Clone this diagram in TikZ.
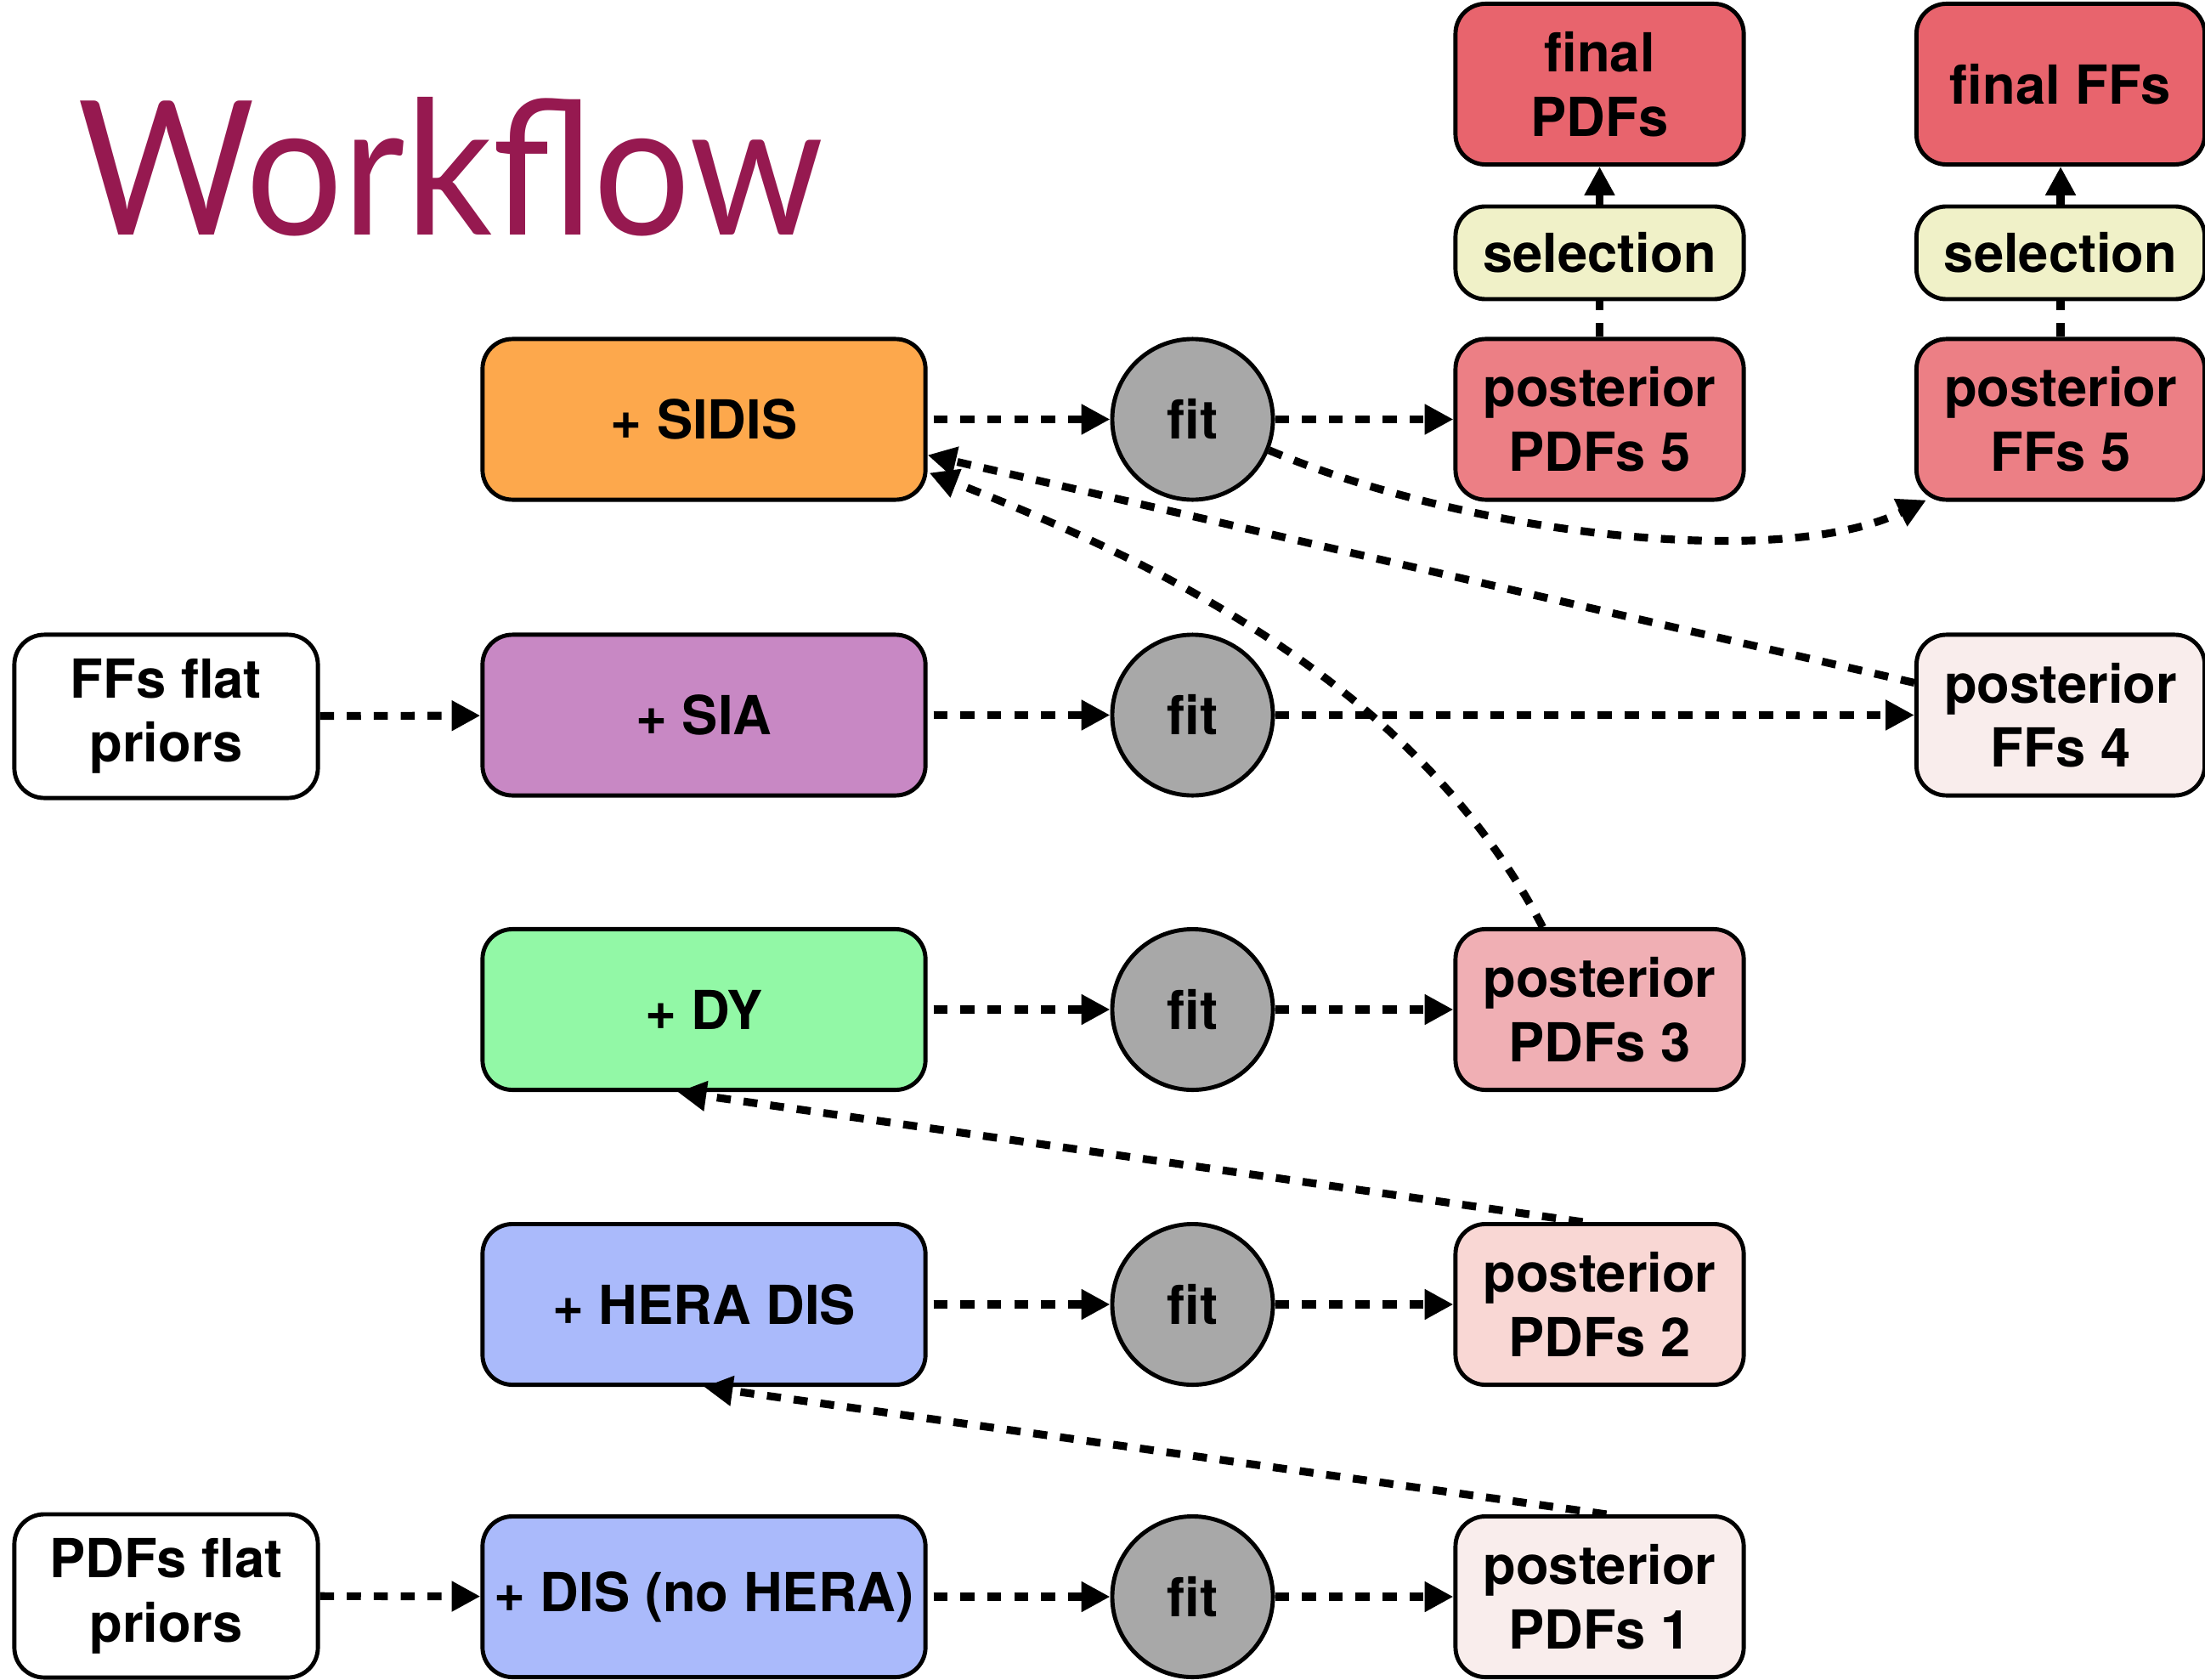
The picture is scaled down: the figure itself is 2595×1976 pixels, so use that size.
\documentclass[tikz,border=0pt]{standalone}
\usepackage{graphicx}
\usepackage{fontspec}
\setmainfont{TeX Gyre Heros}
\newfontfamily\titlefont{Lato}
\usetikzlibrary{arrows.meta,calc}

\definecolor{titlecol}{RGB}{150,25,80}
\definecolor{sidiscol}{RGB}{253,168,76}
\definecolor{siacol}{RGB}{200,136,196}
\definecolor{dycol}{RGB}{146,248,166}
\definecolor{discol}{RGB}{170,186,251}
\definecolor{fitcol}{RGB}{168,168,168}
\definecolor{finalcol}{RGB}{232,100,109}
\definecolor{postA}{RGB}{236,127,133}
\definecolor{postB}{RGB}{240,175,180}
\definecolor{postC}{RGB}{249,215,212}
\definecolor{postD}{RGB}{249,237,236}
\definecolor{selcol}{RGB}{240,241,200}

\begin{document}
\begin{tikzpicture}[x=0.01cm,y=-0.01cm,
  boxtext/.style={font=\fontsize{18}{21.5}\selectfont\bfseries},
  box/.style={draw, line width=1.4pt, rounded corners=10pt, minimum height=1.89cm,
    align=center, inner sep=0pt, boxtext},
  databox/.style={box, minimum width=5.21cm},
  postbox/.style={box, minimum width=3.39cm},
  priorbox/.style={box, minimum width=3.57cm, minimum height=1.92cm, fill=white},
  selbox/.style={box, minimum width=3.39cm, minimum height=1.09cm, fill=selcol},
  fitnode/.style={circle, draw, line width=1.4pt, fill=fitcol, minimum size=1.89cm,
    inner sep=0pt, boxtext},
  link/.style={line width=2.6pt, dash pattern=on 4.7pt off 4.3pt},
  flow/.style={link, -{Triangle[length=9.6pt,width=9.6pt]}},
]
\useasboundingbox (0,0) rectangle (2595,1976);

% title
\node[anchor=base west, inner sep=0pt, text=titlecol] (title) at (91,277)
  {\resizebox{8.77cm}{1.62cm}{\titlefont Workflow}};

% priors
\node[priorbox] (ffprior)  at (195.5,843)  {FFs flat\\priors};
\node[priorbox] (pdfprior) at (195.5,1878) {PDFs flat\\priors};

% data sets
\node[databox, fill=sidiscol] (sidis) at (828.5,493.5) {+ SIDIS};
\node[databox, fill=siacol]   (sia)   at (828.5,841.5) {+ SIA};
\node[databox, fill=dycol]    (dy)    at (828.5,1188)  {+ DY};
\node[databox, fill=discol]   (hera)  at (828.5,1535)  {+ HERA DIS};
\node[databox, fill=discol]   (dis)   at (828.5,1879)  {+ DIS (no HERA)};

% fits
\node[fitnode] (fit1) at (1403.5,493.5) {fit};
\node[fitnode] (fit2) at (1403.5,841.5) {fit};
\node[fitnode] (fit3) at (1403.5,1188)  {fit};
\node[fitnode] (fit4) at (1403.5,1535)  {fit};
\node[fitnode] (fit5) at (1403.5,1879)  {fit};

% posteriors
\node[postbox, fill=postA] (p5)  at (1882.5,493.5) {posterior\\PDFs 5};
\node[postbox, fill=postB] (p3)  at (1882.5,1188)  {posterior\\PDFs 3};
\node[postbox, fill=postC] (p2)  at (1882.5,1535)  {posterior\\PDFs 2};
\node[postbox, fill=postD] (p1)  at (1882.5,1879)  {posterior\\PDFs 1};
\node[postbox, fill=postA] (ff5) at (2425,493.5)   {posterior\\FFs 5};
\node[postbox, fill=postD] (ff4) at (2425,841.5)   {posterior\\FFs 4};

% selection and final results
\node[selbox] (sel1) at (1882.5,297.5) {selection};
\node[selbox] (sel2) at (2425,297.5)   {selection};
\node[postbox, fill=finalcol] (fin1) at (1882.5,99) {final\\PDFs};
\node[postbox, fill=finalcol] (fin2) at (2425,99)   {final FFs};

% inputs
\draw[flow] (ffprior) -- (sia);
\draw[flow] (pdfprior) -- (dis);

% data -> fit -> posterior
\foreach \d/\f in {sidis/fit1, sia/fit2, dy/fit3, hera/fit4, dis/fit5}
  \draw[flow, shorten <=2pt] (\d) -- (\f);
\draw[flow] (fit1) -- (p5);
\draw[flow] (fit2) -- (ff4);
\draw[flow] (fit3) -- (p3);
\draw[flow] (fit4) -- (p2);
\draw[flow] (fit5) -- (p1);
\draw[flow] (fit1.-22) .. controls +(237,100) and +(-171,83) .. ($(ff5.south west)+(14,-2)$);

% posteriors feed the next stage
\draw[flow] ($(p1.north)+(8,0)$) -- (hera.south);
\draw[flow] ($(p2.north)+(-20,0)$) -- ($(dy.south)+(-31,0)$);
\draw[flow] ($(p3.north)+(-67,0)$) .. controls +(-145,-279) and +(278,108) .. ($(sidis.east)+(2,63)$);
\draw[flow] ($(ff4.west)+(0,-38)$) -- ($(sidis.east)+(0,42)$);

% selection
\draw[link] (p5) -- (sel1);
\draw[flow] (sel1) -- (fin1);
\draw[link] (ff5) -- (sel2);
\draw[flow] (sel2) -- (fin2);
\end{tikzpicture}
\end{document}
